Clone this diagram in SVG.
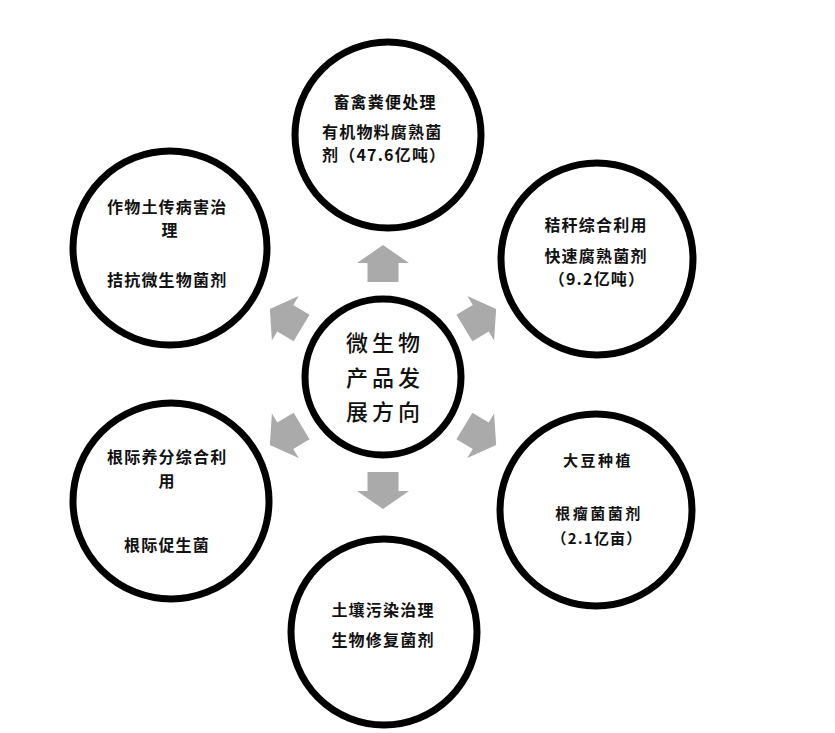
<svg xmlns="http://www.w3.org/2000/svg" width="835" height="733" viewBox="0 0 835 733">
<style>
.ring{fill:#fff;stroke:#000;stroke-width:7}
.t{font-family:"Noto Sans CJK SC","Noto Sans",sans-serif;font-weight:700;font-size:16px;letter-spacing:1.2px;fill:#111}
.c{text-anchor:middle}
.k{font-family:"Noto Sans CJK SC","Noto Sans",sans-serif;font-weight:500;font-size:22px;fill:#111;text-anchor:middle}
.arr{fill:#aaaaaa}
</style>
<defs>
<path id="ar" d="M -15.5 -95 L -15.5 -114 L -26 -114 L 0 -132 L 26 -114 L 15.5 -114 L 15.5 -95 Z"/>
</defs>
<rect width="835" height="733" fill="#fff"/>
<g id="connectors" class="arr" transform="translate(383 377)">
<use href="#ar"/>
<use href="#ar" transform="rotate(59)"/>
<use href="#ar" transform="rotate(121)"/>
<use href="#ar" transform="rotate(180)"/>
<use href="#ar" transform="rotate(-121)"/>
<use href="#ar" transform="rotate(-59)"/>
</g>
<g id="center">
<circle class="ring" cx="383" cy="377" r="78"/>
<text class="k" y="351"><tspan x="357">微</tspan><tspan x="383">生</tspan><tspan x="409">物</tspan></text>
<text class="k" y="386"><tspan x="357">产</tspan><tspan x="383">品</tspan><tspan x="409">发</tspan></text>
<text class="k" y="420"><tspan x="357">展</tspan><tspan x="383">方</tspan><tspan x="409">向</tspan></text>
</g>
<g id="top">
<circle class="ring" cx="388" cy="135" r="93"/>
<text class="t c" x="385" y="108">畜禽粪便处理</text>
<text class="t" x="322" y="138">有机物料腐熟菌</text>
<text class="t" x="322" y="161">剂（47.6亿吨）</text>
</g>
<g id="top-left">
<circle class="ring" cx="170" cy="248" r="97"/>
<text class="t" x="107" y="213">作物土传病害治</text>
<text class="t c" x="170" y="236">理</text>
<text class="t" x="107" y="286">拮抗微生物菌剂</text>
</g>
<g id="top-right">
<circle class="ring" cx="597" cy="259" r="96"/>
<text class="t c" x="596" y="231">秸秆综合利用</text>
<text class="t c" x="596" y="262">快速腐熟菌剂</text>
<text class="t c" x="597" y="285">（9.2亿吨）</text>
</g>
<g id="bottom-left">
<circle class="ring" cx="171" cy="501" r="98"/>
<text class="t" x="107" y="463">根际养分综合利</text>
<text class="t c" x="167" y="487">用</text>
<text class="t c" x="167" y="551">根际促生菌</text>
</g>
<g id="bottom-right">
<circle class="ring" cx="596" cy="510" r="96"/>
<text class="t c" x="598" y="466" style="letter-spacing:2.5px;font-size:15px">大豆种植</text>
<text class="t c" x="599" y="519" style="letter-spacing:2.5px;font-size:15px">根瘤菌菌剂</text>
<text class="t c" x="597" y="544" style="font-size:15px">（2.1亿亩）</text>
</g>
<g id="bottom">
<circle class="ring" cx="384" cy="632" r="93"/>
<text class="t c" x="383" y="616">土壤污染治理</text>
<text class="t c" x="383" y="646">生物修复菌剂</text>
</g>
</svg>
